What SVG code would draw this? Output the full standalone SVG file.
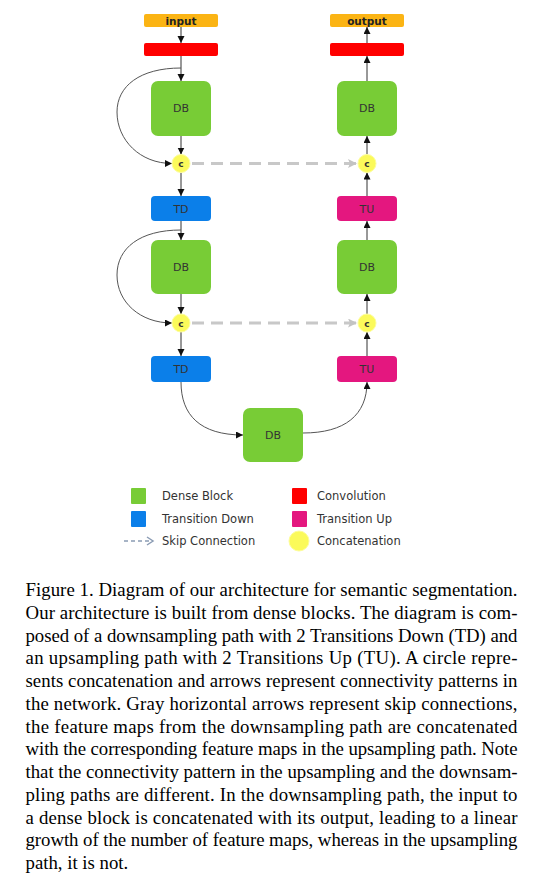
<svg xmlns="http://www.w3.org/2000/svg" width="543" height="886" viewBox="0 0 543 886">
<style>
.lbl{font-family:"DejaVu Sans",sans-serif;font-size:11px;fill:#333;text-anchor:middle}
.io{font-family:"DejaVu Sans",sans-serif;font-size:10.5px;font-weight:bold;fill:#222;text-anchor:middle}
.cc{font-family:"DejaVu Sans",sans-serif;font-size:9px;font-weight:bold;fill:#333;text-anchor:middle}
.leg{font-family:"DejaVu Sans",sans-serif;font-size:11.5px;fill:#333}
.cap{font-family:"Liberation Serif","Times New Roman",serif;font-size:18.8px;fill:#000}
.db{fill:#78cc36}
.td{fill:#0b7fe9}
.tu{fill:#e4177f}
.cv{fill:#ff0000}
.in{fill:#fbb414}
.cat{fill:#fbfa5a;stroke:#fdfd9a;stroke-width:1}
.ar{fill:none;stroke:#333;stroke-width:1;marker-end:url(#ah)}
.cu{fill:none;stroke:#555;stroke-width:1;marker-end:url(#ah)}
.sk{fill:none;stroke:#c8c8c8;stroke-width:3;stroke-dasharray:12 7;marker-end:url(#gh)}
</style>
<defs>
<marker id="ah" markerUnits="userSpaceOnUse" markerWidth="8" markerHeight="8" refX="7" refY="3.5" orient="auto">
<path d="M0,0 L7,3.5 L0,7 z" fill="#111"/>
</marker>
<marker id="gh" markerUnits="userSpaceOnUse" markerWidth="10" markerHeight="10" refX="9" refY="4.5" orient="auto">
<path d="M0,0 L9,4.5 L0,9 L2,4.5 z" fill="#c3c3c3"/>
</marker>
</defs>
<rect width="543" height="886" fill="#fff"/>

<g id="connectors">
<path class="ar" d="M181,27 L181,43"/>
<path class="ar" d="M181,56 L181,81"/>
<path class="ar" d="M181,136 L181,154.5"/>
<path class="ar" d="M181,172.5 L181,196"/>
<path class="ar" d="M181,221 L181,240"/>
<path class="ar" d="M181,294 L181,314"/>
<path class="ar" d="M181,332 L181,356"/>
<path class="ar" d="M367,356 L367,332"/>
<path class="ar" d="M367,314 L367,294"/>
<path class="ar" d="M367,240 L367,221"/>
<path class="ar" d="M367,196 L367,172.5"/>
<path class="ar" d="M367,154.5 L367,136"/>
<path class="ar" d="M367,81 L367,56"/>
<path class="ar" d="M367,43 L367,27"/>
<path class="cu" d="M181,68 C140,68 117,86 117,112 C117,140 140,163.5 172,163.5"/>
<path class="cu" d="M181,230 C140,230 117,248 117,275 C117,302 140,323 172,323"/>
<path class="cu" d="M181,382 C181,415 200,435 243,435"/>
<path class="cu" d="M303,433 C345,433 367,415 367,382"/>
<path class="sk" d="M192,163.5 L357,163.5"/>
<path class="sk" d="M192,323 L357,323"/>
</g>

<g id="input"><rect class="in" x="144" y="14" width="74" height="13" rx="2"/><text class="io" x="181" y="24.5">input</text></g>
<g id="conv1"><rect class="cv" x="144" y="43" width="74" height="13" rx="2"/></g>
<g id="db1"><rect class="db" x="151" y="81" width="60" height="55" rx="7"/><text class="lbl" x="181" y="112">DB</text></g>
<g id="c1"><circle class="cat" cx="181" cy="163.5" r="9"/><text class="cc" x="181" y="167">c</text></g>
<g id="td1"><rect class="td" x="151" y="196" width="60" height="25" rx="4"/><text class="lbl" x="181" y="212.5">TD</text></g>
<g id="db2"><rect class="db" x="151" y="240" width="60" height="54" rx="7"/><text class="lbl" x="181" y="271">DB</text></g>
<g id="c2"><circle class="cat" cx="181" cy="323" r="9"/><text class="cc" x="181" y="326.5">c</text></g>
<g id="td2"><rect class="td" x="151" y="356" width="60" height="26" rx="4"/><text class="lbl" x="181" y="373">TD</text></g>
<g id="db3"><rect class="db" x="243" y="408" width="60" height="54" rx="7"/><text class="lbl" x="273" y="439">DB</text></g>
<g id="tu2"><rect class="tu" x="337" y="356" width="60" height="26" rx="4"/><text class="lbl" x="367" y="373">TU</text></g>
<g id="c4"><circle class="cat" cx="367" cy="323" r="9"/><text class="cc" x="367" y="326.5">c</text></g>
<g id="db4"><rect class="db" x="337" y="240" width="60" height="54" rx="7"/><text class="lbl" x="367" y="271">DB</text></g>
<g id="tu1"><rect class="tu" x="337" y="196" width="60" height="25" rx="4"/><text class="lbl" x="367" y="212.5">TU</text></g>
<g id="c3"><circle class="cat" cx="367" cy="163.5" r="9"/><text class="cc" x="367" y="167">c</text></g>
<g id="db5"><rect class="db" x="337" y="81" width="60" height="55" rx="7"/><text class="lbl" x="367" y="112">DB</text></g>
<g id="conv2"><rect class="cv" x="330" y="43" width="74" height="13" rx="2"/></g>
<g id="output"><rect class="in" x="330" y="14" width="74" height="13" rx="2"/><text class="io" x="367" y="24.5">output</text></g>

<g id="legend">
<rect class="db" x="131" y="488" width="15" height="16" rx="1"/>
<text class="leg" x="162" y="500">Dense Block</text>
<rect class="td" x="131" y="511" width="15" height="16" rx="1"/>
<text class="leg" x="162" y="523">Transition Down</text>
<path d="M124,541 L150,541" stroke="#8b9cb4" stroke-width="1.5" stroke-dasharray="4 3" fill="none"/>
<path d="M147,537 L153,541 L147,545" stroke="#8b9cb4" stroke-width="1.5" fill="none"/>
<text class="leg" x="162" y="545">Skip Connection</text>
<rect class="cv" x="292" y="488" width="15" height="16" rx="1"/>
<text class="leg" x="317" y="500">Convolution</text>
<rect class="tu" x="292" y="511" width="15" height="16" rx="1"/>
<text class="leg" x="317" y="523">Transition Up</text>
<circle class="cat" cx="299" cy="541" r="10"/>
<text class="leg" x="317" y="545">Concatenation</text>
</g>

<g id="caption" class="cap">
<text x="25.5" y="596" textLength="492" lengthAdjust="spacing">Figure 1. Diagram of our architecture for semantic segmentation.</text>
<text x="25.5" y="618.75" textLength="492" lengthAdjust="spacing">Our architecture is built from dense blocks. The diagram is com-</text>
<text x="25.5" y="641.5" textLength="492" lengthAdjust="spacing">posed of a downsampling path with 2 Transitions Down (TD) and</text>
<text x="25.5" y="664.25" textLength="492" lengthAdjust="spacing">an upsampling path with 2 Transitions Up (TU). A circle repre-</text>
<text x="25.5" y="687" textLength="492" lengthAdjust="spacing">sents concatenation and arrows represent connectivity patterns in</text>
<text x="25.5" y="709.75" textLength="492" lengthAdjust="spacing">the network. Gray horizontal arrows represent skip connections,</text>
<text x="25.5" y="732.5" textLength="492" lengthAdjust="spacing">the feature maps from the downsampling path are concatenated</text>
<text x="25.5" y="755.25" textLength="492" lengthAdjust="spacing">with the corresponding feature maps in the upsampling path. Note</text>
<text x="25.5" y="778" textLength="492" lengthAdjust="spacing">that the connectivity pattern in the upsampling and the downsam-</text>
<text x="25.5" y="800.75" textLength="492" lengthAdjust="spacing">pling paths are different. In the downsampling path, the input to</text>
<text x="25.5" y="823.5" textLength="492" lengthAdjust="spacing">a dense block is concatenated with its output, leading to a linear</text>
<text x="25.5" y="846.25" textLength="492" lengthAdjust="spacing">growth of the number of feature maps, whereas in the upsampling</text>
<text x="25.5" y="869">path, it is not.</text>
</g>
</svg>
